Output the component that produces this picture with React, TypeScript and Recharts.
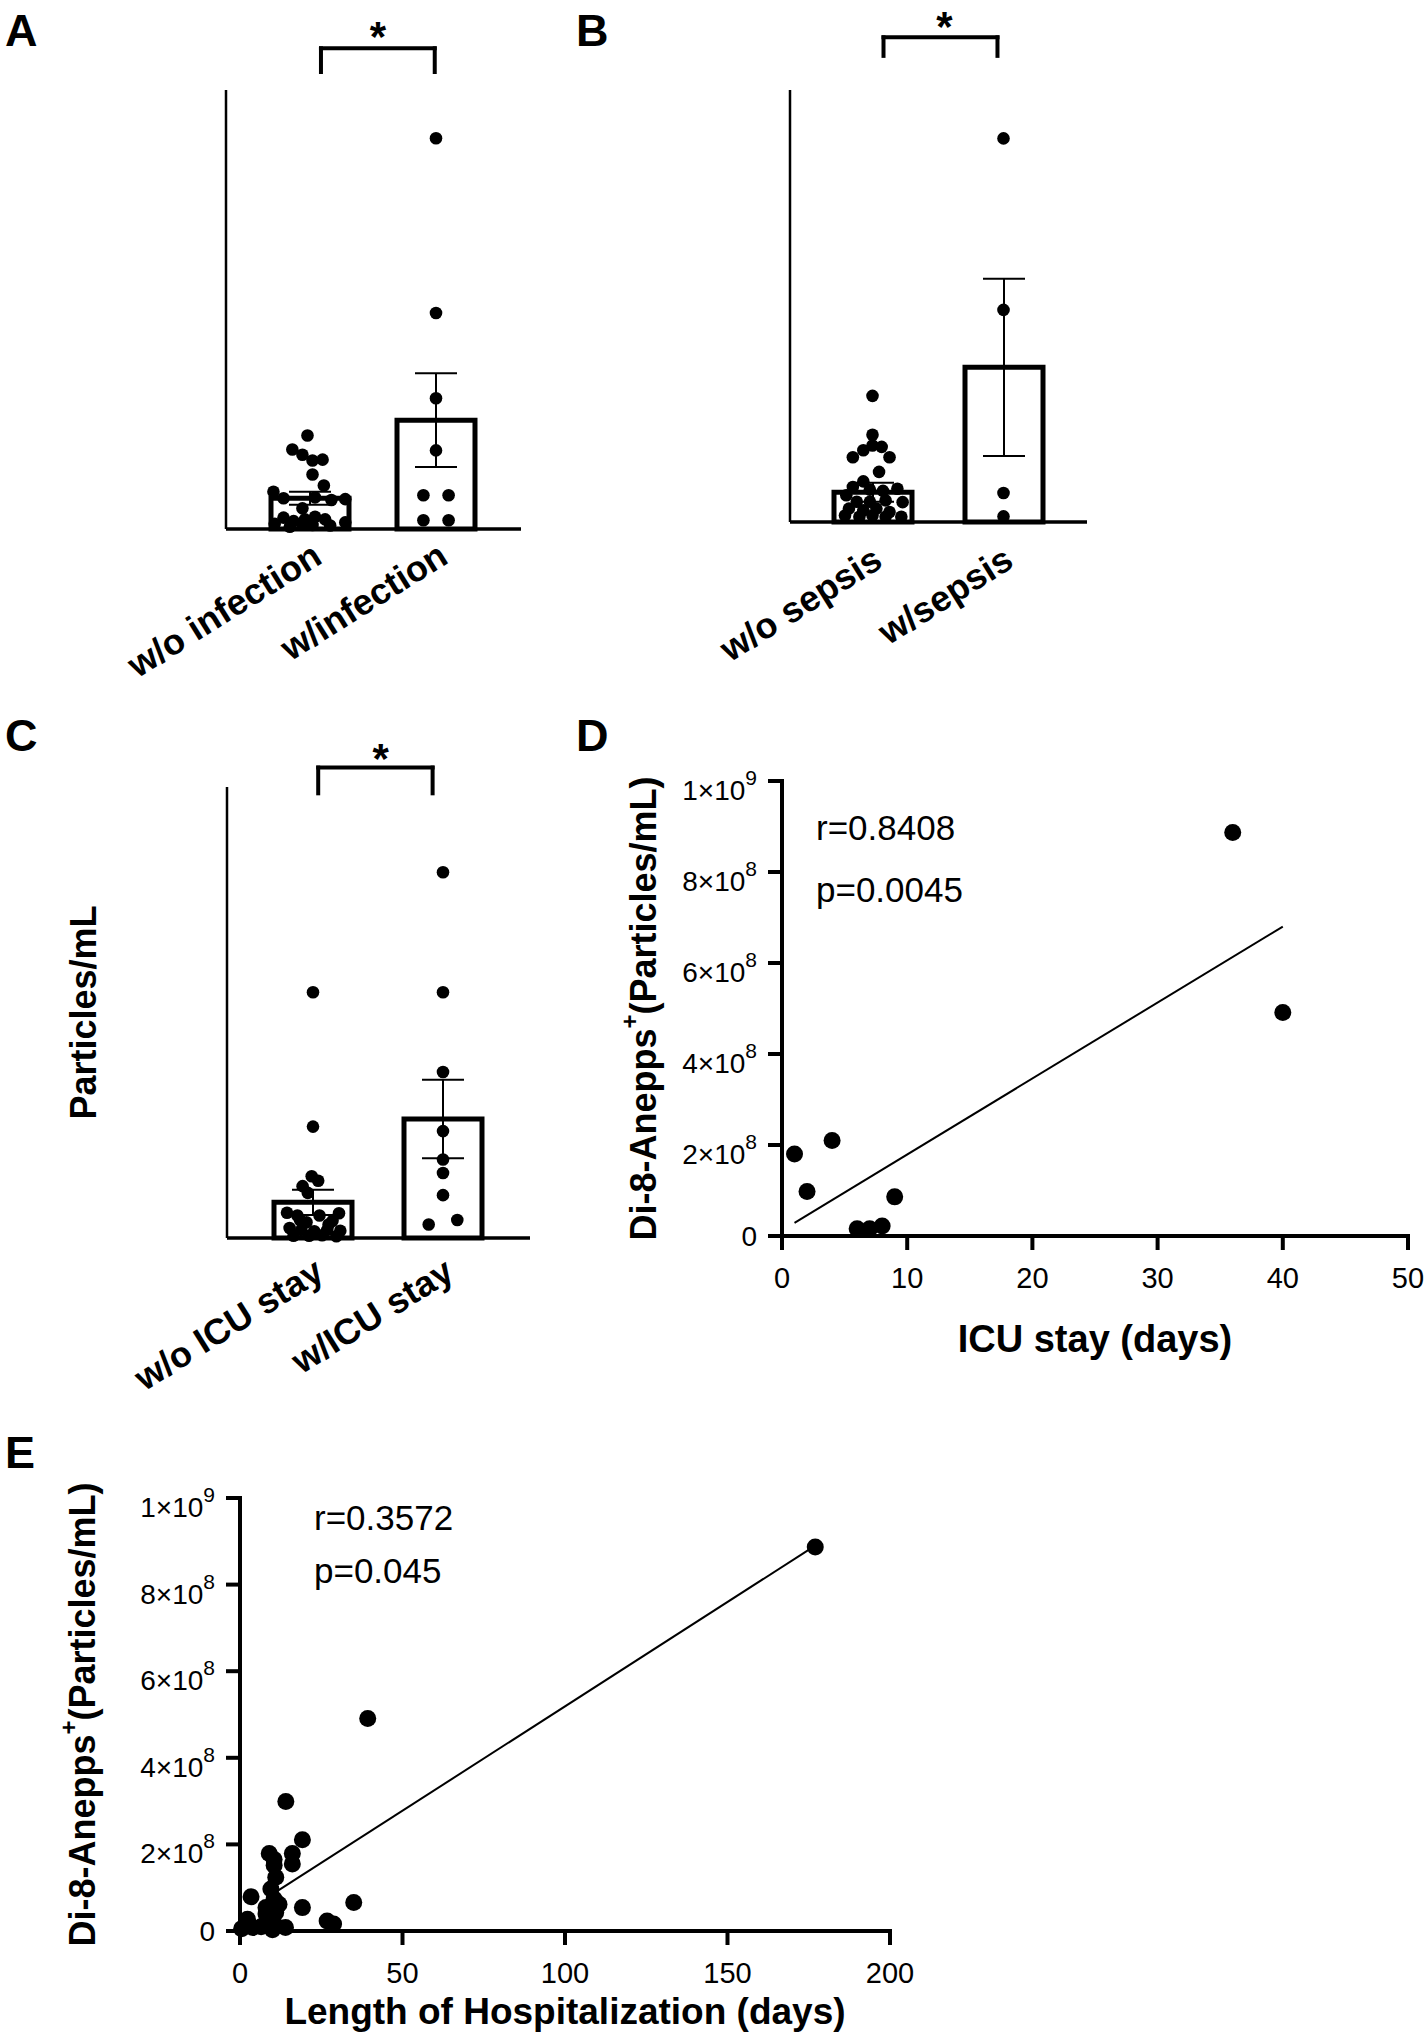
import React from 'react';
import {
  ComposedChart, Bar, ErrorBar, Scatter, Line, XAxis, YAxis, ReferenceLine, ReferenceDot,
} from 'recharts';

const FONT = "'Liberation Sans', Arial, Helvetica, sans-serif";
const INK = '#000';

// bar panels: values in 10^8 particles/mL, jitter = x offset inside the category

// A - infection
const infGroups = ['w/o infection', 'w/infection'];
const infMean = [0.7, 2.48];
const infSem = [0.15, 1.07];
const infNoY = [2.13, 1.81, 1.69, 1.56, 1.58, 1.24, 0.99, 0.85, 0.7, 0.72, 0.66, 0.68, 0.47, 0.26, 0.18, 0.22, 0.28, 0.22, 0.1, 0.09, 0.05, 0.08, 0.15, 0.12];
const infNoJit = [-0.02, -0.14, -0.06, 0.02, 0.1, 0.02, 0.11, -0.29, -0.21, 0.04, 0.17, 0.28, -0.06, -0.21, -0.13, -0.04, 0.04, 0.12, -0.06, 0.02, -0.16, 0.16, 0.28, -0.28];
const infYesY = [8.9, 4.92, 2.98, 1.79, 0.77, 0.77, 0.2, 0.2];
const infYesJit = [0, 0, 0, 0, -0.1, 0.1, -0.1, 0.1];

// B - sepsis
const sepGroups = ['w/o sepsis', 'w/sepsis'];
const sepMean = [0.69, 3.58];
const sepSem = [0.22, 2.05];
const sepNoY = [2.92, 2.02, 1.77, 1.66, 1.74, 1.5, 1.5, 1.16, 0.94, 0.81, 0.75, 0.72, 0.77, 0.62, 0.47, 0.47, 0.46, 0.5, 0.31, 0.27, 0.31, 0.23, 0.15, 0.12, 0.15, 0.12, 0.12];
const sepNoJit = [0, 0, 0, -0.07, 0.07, -0.15, 0.13, 0.05, -0.07, -0.15, -0.02, 0.08, 0.19, -0.2, -0.12, -0.02, 0.23, 0.1, -0.18, -0.07, 0.03, 0.13, -0.21, -0.1, 0, 0.1, 0.22];
const sepYesY = [8.88, 4.91, 0.67, 0.13];
const sepYesJit = [0, 0, 0, 0];

// C - ICU stay
const icuGroups = ['w/o ICU stay', 'w/ICU stay'];
const icuMean = [0.79, 2.64];
const icuSem = [0.28, 0.87];
const icuNoY = [5.45, 2.47, 1.37, 1.27, 1.15, 1.0, 0.56, 0.5, 0.55, 0.5, 0.35, 0.38, 0.22, 0.18, 0.15, 0.18, 0.16, 0.05, 0.05, 0.06, 0.04, 0.4, 0.3];
const icuNoJit = [0, 0, -0.01, 0.04, -0.08, -0.04, -0.2, -0.12, 0.2, 0.05, -0.05, 0.15, -0.18, -0.09, 0.01, 0.11, 0.21, -0.15, -0.03, 0.07, 0.18, -0.1, 0.12];
const icuYesY = [8.11, 5.45, 3.68, 2.37, 1.74, 1.44, 0.95, 0.4, 0.3];
const icuYesJit = [0, 0, 0, 0, 0, 0, 0, 0.11, -0.11];

// D - ICU days vs particles/mL
const icuDays = [1, 2, 4, 6, 7, 8, 9, 36, 40];
const icuParticles = [1.8e8, 0.98e8, 2.1e8, 0.16e8, 0.16e8, 0.22e8, 0.86e8, 8.87e8, 4.91e8];
const icuFitX = [1, 40];
const icuFitY = [0.29e8, 6.8e8];

// E - hospitalization days vs particles/mL
const hospDays = [14.1, 19.2, 9, 16.1, 16.1, 10.5, 10.5, 11, 9.5, 3.4, 10.5, 19.2, 35, 8, 12, 8, 11, 2.3, 1.8, 3.9, 8, 11, 14, 26.8, 28.8, 39.3, 177, 0.5, 10, 6.5, 9.5];
const hospParticles = [2.99e8, 2.11e8, 1.79e8, 1.79e8, 1.55e8, 1.52e8, 1.65e8, 1.24e8, 0.97e8, 0.79e8, 0.74e8, 0.54e8, 0.66e8, 0.54e8, 0.62e8, 0.39e8, 0.43e8, 0.27e8, 0.12e8, 0.08e8, 0.19e8, 0.12e8, 0.08e8, 0.23e8, 0.16e8, 4.91e8, 8.87e8, 0.05e8, 0.03e8, 0.1e8, 0.3e8];
const hospFitX = [10, 177];
const hospFitY = [0.85e8, 8.9e8];

const sciTicks = [0, 2e8, 4e8, 6e8, 8e8, 1e9];
const icuXTicks = [0, 10, 20, 30, 40, 50];
const hospXTicks = [0, 50, 100, 150, 200];

const jitter = (ys: number[], jit: number[], g: number) => ys.map((y, i) => ({ x: g + jit[i], y }));
const pairs = (xs: number[], ys: number[]) => xs.map((x, i) => ({ x, y: ys[i] }));

const catTick = (dx: number, dy: number) => (p: any) => {
  const tx = p.x + dx;
  const ty = p.y + dy;
  return (
    <text x={tx} y={ty} transform={`rotate(-32 ${tx} ${ty})`} textAnchor="end"
      fontFamily={FONT} fontWeight={700} fontSize={36} fill={INK}>
      {p.payload.value}
    </text>
  );
};

const sciTick = (p: any) => {
  const v = p.payload.value as number;
  if (v === 0) {
    return <text x={p.x} y={p.y + 10} textAnchor="end" fontFamily={FONT} fontSize={28} fill={INK}>0</text>;
  }
  const exp = Math.floor(Math.log10(v) + 1e-9);
  const mant = Math.round(v / Math.pow(10, exp));
  return (
    <text x={p.x} y={p.y + 19} textAnchor="end" fontFamily={FONT} fontSize={28} fill={INK}>
      {`${mant}×10`}
      <tspan dy={-15} fontSize={21}>{exp}</tspan>
    </text>
  );
};

const numTick = (p: any) => (
  <text x={p.x} y={p.y + 38} textAnchor="middle" fontFamily={FONT} fontSize={29} fill={INK}>
    {p.payload.value}
  </text>
);

const dotShape = (r: number) => (p: any) => <circle cx={p.cx} cy={p.cy} r={r} fill={INK} />;

const vTitle = (gap: number, children: React.ReactNode) => (p: any) => {
  const vb = p.viewBox;
  const cx = vb.x + vb.width - gap;
  const cy = vb.y + vb.height / 2;
  return (
    <text x={cx} y={cy} transform={`rotate(-90 ${cx} ${cy})`} textAnchor="middle" dominantBaseline="central"
      fontFamily={FONT} fontWeight={700} fontSize={36} fill={INK}>
      {children}
    </text>
  );
};

const hTitle = (dy: number, size: number, text: string) => (p: any) => {
  const vb = p.viewBox;
  return (
    <text x={vb.x + vb.width / 2} y={vb.y + dy} textAnchor="middle" dominantBaseline="central"
      fontFamily={FONT} fontWeight={700} fontSize={size} fill={INK}>
      {text}
    </text>
  );
};

type Margin = { top: number; right: number; bottom: number; left: number };

type BarCfg = {
  left: number; top: number; w: number; h: number;
  margin: Margin;
  pad: { left: number; right: number };
  groups: string[]; mean: number[]; sem: number[];
  dots: { x: number; y: number }[][];
  cap: number;
  br: { x0: number; x1: number; y: number; yLow: number; starX: number; starY: number };
  label: { dx: number; dy: number };
  yTitle?: string;
};

// axes need a non-zero box to be drawn, so they get 1px and the margin gives it back
const shrink = (m: Margin): Margin => ({ ...m, left: m.left - 1, bottom: m.bottom - 1 });

function BarPanel({ c }: { c: BarCfg }) {
  const data = c.groups.map((g, i) => ({ group: g, mean: c.mean[i], sem: c.sem[i] }));
  const b = c.br;
  const seg = (p: { x: number; y: number }[], k: string) => (
    <ReferenceLine key={k} xAxisId="num" ifOverflow="visible" segment={p} stroke={INK} strokeWidth={4} strokeLinecap="square" />
  );
  return (
    <div style={{ position: 'absolute', left: c.left, top: c.top }}>
      <ComposedChart width={c.w} height={c.h} data={data} margin={shrink(c.margin)}>
        <XAxis xAxisId="cat" dataKey="group" type="category" height={1} padding={c.pad} interval={0}
          axisLine={{ stroke: INK, strokeWidth: 3.5 }} tickLine={false} tickSize={0} tickMargin={0}
          tick={catTick(c.label.dx, c.label.dy)} />
        <XAxis xAxisId="num" dataKey="x" type="number" domain={[-0.5, 1.5]} padding={c.pad} height={1} hide />
        <YAxis type="number" domain={[0, 10]} width={1} tick={false} tickLine={false}
          axisLine={{ stroke: INK, strokeWidth: 2.5 }}
          label={c.yTitle ? vTitle(144, c.yTitle) : undefined} />
        <Bar xAxisId="cat" dataKey="mean" fill="#fff" stroke={INK} strokeWidth={5} barSize={78} isAnimationActive={false}>
          <ErrorBar dataKey="sem" width={c.cap} stroke={INK} strokeWidth={2} direction="y" />
        </Bar>
        {c.dots.map((d, i) => (
          <Scatter key={i} xAxisId="num" data={d} dataKey="y" shape={dotShape(6.3)} isAnimationActive={false} />
        ))}
        {seg([{ x: b.x0, y: b.yLow }, { x: b.x0, y: b.y }], 'l')}
        {seg([{ x: b.x0, y: b.y }, { x: b.x1, y: b.y }], 'm')}
        {seg([{ x: b.x1, y: b.y }, { x: b.x1, y: b.yLow }], 'r')}
        <ReferenceDot xAxisId="num" x={b.starX} y={b.starY} r={1} fill="none" stroke="none" ifOverflow="visible"
          label={{ value: '*', position: 'center', fontSize: 42, fontWeight: 700, fill: INK, fontFamily: FONT }} />
      </ComposedChart>
    </div>
  );
}

type ScatCfg = {
  left: number; top: number; w: number; h: number;
  margin: Margin;
  xMax: number; xTicks: number[];
  pts: { x: number; y: number }[];
  fit: { x: number; y: number }[];
  xTitle: string; xTitleDy: number; xTitleSize: number; yGap: number;
};

function ScatterPanel({ c }: { c: ScatCfg }) {
  const axisStyle = { stroke: INK, strokeWidth: 4, strokeLinecap: 'square' as const };
  return (
    <div style={{ position: 'absolute', left: c.left, top: c.top }}>
      <ComposedChart width={c.w} height={c.h} margin={shrink(c.margin)}>
        <XAxis dataKey="x" type="number" domain={[0, c.xMax]} ticks={c.xTicks} height={1} interval={0}
          axisLine={axisStyle} tickLine={{ stroke: INK, strokeWidth: 4 }} tickSize={14} tickMargin={0} tick={numTick}
          label={hTitle(c.xTitleDy, c.xTitleSize, c.xTitle)} />
        <YAxis type="number" domain={[0, 1e9]} ticks={sciTicks} width={1} interval={0}
          axisLine={axisStyle} tickLine={{ stroke: INK, strokeWidth: 4 }} tickSize={14} tickMargin={11} tick={sciTick}
          label={vTitle(c.yGap, <>
            Di-8-Anepps<tspan dy={-14} fontSize={24}>+</tspan><tspan dy={14}>(Particles/mL)</tspan>
          </>)} />
        <Line data={c.fit} dataKey="y" type="linear" stroke={INK} strokeWidth={2} dot={false} isAnimationActive={false} />
        <Scatter data={c.pts} dataKey="y" shape={dotShape(8.5)} isAnimationActive={false} />
      </ComposedChart>
    </div>
  );
}

const panelA: BarCfg = {
  left: 0, top: 0, w: 560, h: 700,
  margin: { top: 90, left: 226, right: 39, bottom: 171 },
  pad: { left: 21, right: 22 },
  groups: infGroups, mean: infMean, sem: infSem,
  dots: [jitter(infNoY, infNoJit, 0), jitter(infYesY, infYesJit, 1)],
  cap: 21,
  br: { x0: 0.087, x1: 0.99, y: 10.95, yLow: 10.41, starX: 0.54, starY: 11.22 },
  label: { dx: 14, dy: 33 },
};

const panelB: BarCfg = {
  left: 560, top: 0, w: 560, h: 700,
  margin: { top: 90, left: 230, right: 33, bottom: 178 },
  pad: { left: 17, right: 18 },
  groups: sepGroups, mean: sepMean, sem: sepSem,
  dots: [jitter(sepNoY, sepNoJit, 0), jitter(sepYesY, sepYesJit, 1)],
  cap: 21,
  br: { x0: 0.084, x1: 0.954, y: 11.22, yLow: 10.79, starX: 0.55, starY: 11.47 },
  label: { dx: 12, dy: 44 },
};

const panelC: BarCfg = {
  left: 0, top: 700, w: 560, h: 700,
  margin: { top: 87, left: 227, right: 30, bottom: 162 },
  pad: { left: 21, right: 22 },
  groups: icuGroups, mean: icuMean, sem: icuSem,
  dots: [jitter(icuNoY, icuNoJit, 0), jitter(icuYesY, icuYesJit, 1)],
  cap: 21,
  br: { x0: 0.04, x1: 0.92, y: 10.43, yLow: 9.86, starX: 0.52, starY: 10.63 },
  label: { dx: 13, dy: 40 },
  yTitle: 'Particles/mL',
};

const panelD: ScatCfg = {
  left: 560, top: 700, w: 864, h: 700,
  margin: { top: 81, left: 222, right: 16, bottom: 164 },
  xMax: 50, xTicks: icuXTicks,
  pts: pairs(icuDays, icuParticles),
  fit: pairs(icuFitX, icuFitY),
  xTitle: 'ICU stay (days)', xTitleDy: 103, xTitleSize: 38, yGap: 139,
};

const panelE: ScatCfg = {
  left: 0, top: 1400, w: 950, h: 640,
  margin: { top: 98, left: 240, right: 60, bottom: 109 },
  xMax: 200, xTicks: hospXTicks,
  pts: pairs(hospDays, hospParticles),
  fit: pairs(hospFitX, hospFitY),
  xTitle: 'Length of Hospitalization (days)', xTitleDy: 80, xTitleSize: 37, yGap: 158,
};

const letter = { fontFamily: FONT, fontWeight: 700, fontSize: 45, fill: INK };
const stat = { fontFamily: FONT, fontSize: 35, fill: INK };

export default function App() {
  return (
    <div style={{ position: 'absolute', left: 0, top: 0, width: 1424, height: 2040, background: '#fff', overflow: 'hidden' }}>
      <BarPanel c={panelA} />
      <BarPanel c={panelB} />
      <BarPanel c={panelC} />
      <ScatterPanel c={panelD} />
      <ScatterPanel c={panelE} />
      <svg width={1424} height={2040} style={{ position: 'absolute', left: 0, top: 0, pointerEvents: 'none' }}>
        <text x={5} y={46} {...letter}>A</text>
        <text x={576} y={46} {...letter}>B</text>
        <text x={5} y={751} {...letter}>C</text>
        <text x={576} y={751} {...letter}>D</text>
        <text x={5} y={1468} {...letter}>E</text>
        <text x={816} y={840} {...stat}>r=0.8408</text>
        <text x={816} y={902} {...stat}>p=0.0045</text>
        <text x={314} y={1530} {...stat}>r=0.3572</text>
        <text x={314} y={1583} {...stat}>p=0.045</text>
      </svg>
    </div>
  );
}
